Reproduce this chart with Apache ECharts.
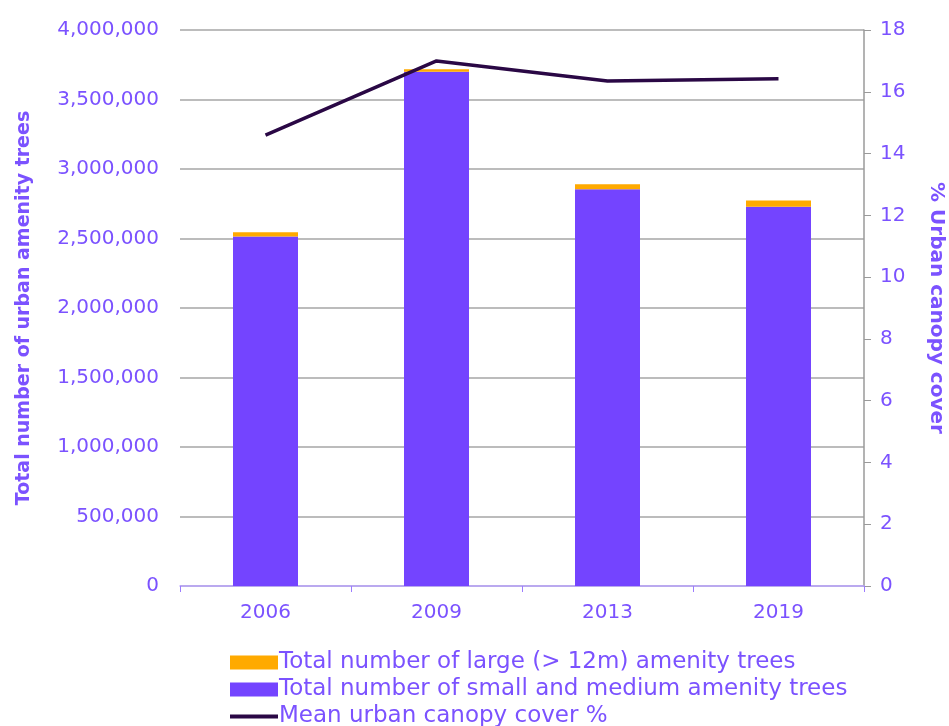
<!DOCTYPE html>
<html>
<head>
<meta charset="utf-8">
<script src="https://cdn.jsdelivr.net/npm/echarts@6/dist/echarts.min.js"></script>
<style>
html, body { margin: 0; padding: 0; background: #fff; }
#chart { width: 949px; height: 726px; }
</style>
</head>
<body>
<div id="chart"></div>
<script>
// data
var years = ['2006', '2009', '2013', '2019'];
var smallMedium = [2515000, 3700000, 2855000, 2728000];
var large = [30000, 17000, 35000, 46000];
var canopy = [14.6, 17.0, 16.35, 16.42];

var purple = '#7444ff';
var textPurple = '#7b52ff';
var font = 'DejaVu Sans';

var chart = echarts.init(document.getElementById('chart'));
chart.setOption({
  animation: false,
  textStyle: { fontFamily: font },
  grid: { left: 180, right: 85, top: 30, bottom: 140, outerBoundsMode: 'none', containLabel: false },
  legend: {
    orient: 'vertical',
    left: 225,
    top: 646,
    height: 100,
    itemGap: 4,
    itemWidth: 48,
    itemHeight: 14,
    textStyle: { color: textPurple, fontSize: 23, fontFamily: font, padding: [0, 0, 0, -4] },
    data: [
      { name: 'Total number of large (> 12m) amenity trees', icon: 'rect' },
      { name: 'Total number of small and medium amenity trees', icon: 'rect' },
      { name: 'Mean urban canopy cover %', icon: 'path://M0,0 L48,0 L48,4 L0,4 Z', itemStyle: { color: '#2a0845' } }
    ]
  },
  xAxis: {
    type: 'category',
    data: years,
    axisLine: { lineStyle: { color: '#b9a3ff', width: 1.5 } },
    axisTick: { show: true, length: 6, lineStyle: { color: '#9c7cff' } },
    axisLabel: { color: textPurple, fontSize: 20, margin: 17 }
  },
  yAxis: [
    {
      type: 'value',
      min: 0,
      max: 4000000,
      interval: 500000,
      name: 'Total number of urban amenity trees',
      nameLocation: 'middle',
      nameGap: 146,
      nameTextStyle: { color: textPurple, fontSize: 19, fontWeight: 'bold' },
      axisLine: { show: false },
      axisTick: { show: false },
      axisLabel: {
        color: textPurple,
        fontSize: 20,
        margin: 21,
        formatter: function (v) { return v.toLocaleString('en-US'); }
      },
      splitLine: { lineStyle: { color: '#a6a6a6', width: 1.5 } }
    },
    {
      type: 'value',
      min: 0,
      max: 18,
      interval: 2,
      position: 'right',
      name: '% Urban canopy cover',
      nameLocation: 'middle',
      nameGap: 62,
      nameRotate: -90,
      nameTextStyle: { color: textPurple, fontSize: 20, fontWeight: 'bold' },
      axisLine: { show: true, lineStyle: { color: '#9a9a9a', width: 1.5 } },
      axisTick: { show: true, inside: false, length: 7, lineStyle: { color: '#9a9a9a' } },
      axisLabel: { color: textPurple, fontSize: 20, margin: 16 },
      splitLine: { show: false }
    }
  ],
  series: [
    {
      name: 'Total number of small and medium amenity trees',
      type: 'bar',
      stack: 'trees',
      data: smallMedium,
      barWidth: 65,
      itemStyle: { color: purple }
    },
    {
      name: 'Total number of large (> 12m) amenity trees',
      type: 'bar',
      stack: 'trees',
      data: large,
      barWidth: 65,
      itemStyle: { color: '#ffaa00' }
    },
    {
      name: 'Mean urban canopy cover %',
      type: 'line',
      yAxisIndex: 1,
      data: canopy,
      symbol: 'none',
      lineStyle: { color: '#2a0845', width: 3.5 },
      itemStyle: { color: '#2a0845' }
    }
  ]
});
</script>
</body>
</html>
